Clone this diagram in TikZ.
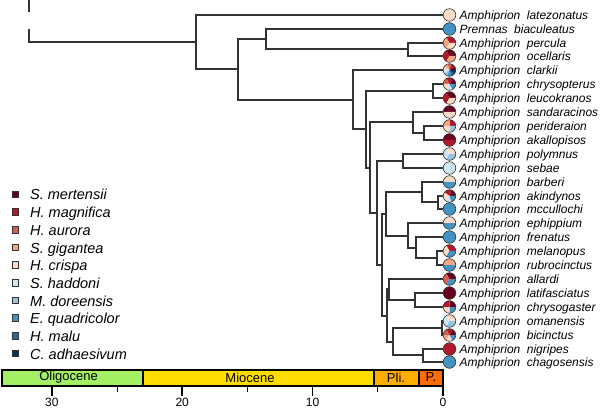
\documentclass[tikz,border=0pt]{standalone}
\usepackage{fontspec}
\setmainfont{Liberation Sans}
\usetikzlibrary{calc}

% host anemone colours (legend order)
\definecolor{host1}{HTML}{67001F}
\definecolor{host2}{HTML}{B2182B}
\definecolor{host3}{HTML}{D6604D}
\definecolor{host4}{HTML}{F4A582}
\definecolor{host5}{HTML}{FDDBC7}
\definecolor{host6}{HTML}{D1E5F0}
\definecolor{host7}{HTML}{92C5DE}
\definecolor{host8}{HTML}{4393C3}
\definecolor{host9}{HTML}{2166AC}
\definecolor{host10}{HTML}{053061}
% epoch colours
\definecolor{oligo}{HTML}{A4F064}
\definecolor{mio}{HTML}{FFDD00}
\definecolor{plio}{HTML}{FFAD00}
\definecolor{pleist}{HTML}{FF6C00}

\newcommand{\spgap}{\hspace{6.5pt}}

% pie of hosts: #1 = tip node, #2 = list of host numbers
\newcommand{\hostpie}[2]{%
  \xdef\npie{0}%
  \foreach \hid in {#2} {\xdef\npie{\the\numexpr\npie+1\relax}}%
  \foreach \hid [count=\pos] in {#2} {
    \fill[host\hid] (#1.center) -- ++({(\pos-1)*360/\npie}:6.3pt)
      arc[start angle={(\pos-1)*360/\npie}, delta angle={360/\npie}, radius=6.3pt] -- cycle;
  }
  \draw[black!80, line width=0.6pt] (#1.center) circle[radius=6.3pt];
}

\tikzset{
  branch/.style={black!80, line width=2pt},
  tipspot/.style={circle, minimum size=12.6pt, inner sep=0pt},
  tiplabel/.style={anchor=base west, inner sep=0pt, font=\fontsize{12}{14}\selectfont\itshape},
  hostbox/.style={draw=black!80, line width=0.5pt, minimum size=6.5pt, inner sep=0pt},
  hostlabel/.style={anchor=base west, inner sep=0pt, font=\fontsize{14.5}{17}\selectfont\itshape},
  epoch/.style={draw=black, line width=2pt},
  epochlabel/.style={inner sep=0pt, font=\fontsize{13}{15}\selectfont},
  agelabel/.style={inner sep=0pt, font=\fontsize{12}{14}\selectfont},
}

\begin{document}
\begin{tikzpicture}[x=1pt, y=-1pt, line join=miter]
    \useasboundingbox (0,0) rectangle (600,409);

    % Tips: pie spot and species name
    \foreach \n/\ty/\gen/\sp in {lat/15/Amphiprion/latezonatus, bia/29/Premnas/biaculeatus,
        per/43/Amphiprion/percula, oce/56/Amphiprion/ocellaris, cla/70/Amphiprion/clarkii,
        chr/84/Amphiprion/chrysopterus, leu/98/Amphiprion/leucokranos, san/112/Amphiprion/sandaracinos,
        pde/126/Amphiprion/perideraion, aka/140/Amphiprion/akallopisos, pol/154/Amphiprion/polymnus,
        seb/168/Amphiprion/sebae, bar/182/Amphiprion/barberi, aki/196/Amphiprion/akindynos,
        mcc/209/Amphiprion/mccullochi, eph/223/Amphiprion/ephippium, fre/237/Amphiprion/frenatus,
        mel/251/Amphiprion/melanopus, rub/265/Amphiprion/rubrocinctus, all/279/Amphiprion/allardi,
        laf/293/Amphiprion/latifasciatus, chs/307/Amphiprion/chrysogaster, oma/321/Amphiprion/omanensis,
        bic/335/Amphiprion/bicinctus, nig/349/Amphiprion/nigripes, cha/362/Amphiprion/chagosensis} {
        \node[tipspot] (\n) at (449.5,\ty) {};
        \node[tiplabel] (\n-txt) at (459.5,\ty+4.3) {\gen\spgap\sp};
    }

    % Internal nodes of the tree
    \coordinate (rstub) at (29,0);      % cut-off root edge
    \coordinate (rstubend) at (29,12);
    \coordinate (rtop) at (29,29);
    \coordinate (root) at (29,42);
    \coordinate (nA) at (196,42);
    \coordinate (nB) at (238,69);
    \coordinate (nC) at (266,39);
    \coordinate (nE) at (408,49);    % percula / ocellaris
    \coordinate (nD) at (353,100);
    \coordinate (nF) at (366,129);
    \coordinate (nG) at (433,91);    % chrysopterus / leucokranos
    \coordinate (nH) at (370,168);
    \coordinate (nI) at (413,122);
    \coordinate (nK) at (424,133);   % perideraion / akallopisos
    \coordinate (nJ) at (377,213);
    \coordinate (nL) at (403,161);   % polymnus / sebae
    \coordinate (nT) at (382,265);
    \coordinate (nP) at (386,214);
    \coordinate (nN) at (422,192);
    \coordinate (nO) at (438,202);   % akindynos / mccullochi
    \coordinate (nQ) at (408,236);
    \coordinate (nR) at (416,248);
    \coordinate (nS) at (437,258);   % melanopus / rubrocinctus
    \coordinate (nY) at (387,316);
    \coordinate (nV) at (389,289);
    \coordinate (nW) at (415,300);   % latifasciatus / chrysogaster
    \coordinate (nX) at (393,342);
    \coordinate (nZ) at (442,328);   % omanensis / bicinctus
    \coordinate (nU) at (423,355);   % nigripes / chagosensis

    % Branches
    \draw[branch] (rstub) -- (rstubend);
    \draw[branch] (rtop) -- (root) -- (nA);
    \foreach \p/\c in {nA/lat.west, nA/nB, nB/nC, nB/nD, nC/bia.west, nC/nE,
        nE/per.west, nE/oce.west, nD/cla.west, nD/nF, nF/nG, nF/nH,
        nG/chr.west, nG/leu.west, nH/nI, nH/nJ, nI/san.west, nI/nK,
        nK/pde.west, nK/aka.west, nJ/nL, nJ/nT, nL/pol.west, nL/seb.west,
        nT/nP, nT/nY, nP/nN, nP/nQ, nN/bar.west, nN/nO, nO/aki.west, nO/mcc.west,
        nQ/eph.west, nQ/nR, nR/fre.west, nR/nS, nS/mel.west, nS/rub.west,
        nY/nV, nY/nX, nV/all.west, nV/nW, nW/laf.west, nW/chs.west,
        nX/nZ, nX/nU, nZ/oma.west, nZ/bic.west, nU/nig.west, nU/cha.west} {
        \draw[branch] (\p) |- (\c);
    }

    % Host pies
    \hostpie{lat}{5}
    \hostpie{bia}{8}
    \hostpie{per}{2,4,5}
    \hostpie{oce}{1,2,4}
    \hostpie{cla}{1,2,3,4,5,6,7,8,9,10}
    \hostpie{chr}{1,2,3,5,6,8}
    \hostpie{leu}{1,2,5}
    \hostpie{san}{1,5}
    \hostpie{pde}{2,4,5,7}
    \hostpie{aka}{1,2}
    \hostpie{pol}{5,6,7}
    \hostpie{seb}{6}
    \hostpie{bar}{5,8}
    \hostpie{aki}{1,2,5,6,8}
    \hostpie{mcc}{8}
    \hostpie{eph}{5,8}
    \hostpie{fre}{8}
    \hostpie{mel}{2,5,8}
    \hostpie{rub}{4,8}
    \hostpie{all}{1,3,8}
    \hostpie{laf}{1}
    \hostpie{chs}{1,2,5,8}
    \hostpie{oma}{5,6,7}
    \hostpie{bic}{1,2,3,4,5,8}
    \hostpie{nig}{2}
    \hostpie{cha}{8}

    % Legend of hosts
    \foreach \hid/\sp [count=\r from 0] in {1/S. mertensii, 2/H. magnifica, 3/H. aurora,
        4/S. gigantea, 5/H. crispa, 6/S. haddoni, 7/M. doreensis, 8/E. quadricolor,
        9/H. malu, 10/C. adhaesivum} {
        \node[hostbox, fill=host\hid] (key\hid) at (15, 194.3+17.67*\r) {};
        \node[hostlabel] (key\hid-txt) at (30, 200.0+17.67*\r) {\sp};
    }

    % Time scale
    \draw[epoch, fill=oligo] (2,369.5) rectangle (142.5,386);
    \draw[epoch, fill=mio] (142.5,369.5) rectangle (374,386);
    \draw[epoch, fill=plio] (374,369.5) rectangle (419.3,386);
    \draw[epoch, fill=pleist] (419.3,369.5) rectangle (443,386);
    \node[epochlabel] (oligo-txt) at (68.6,377.5) {Oligocene};
    \node[epochlabel] (mio-txt) at (250,377.5) {Miocene};
    \node[epochlabel] (plio-txt) at (396,377.5) {Pli.};
    \node[epochlabel] (pleist-txt) at (431,377.5) {P.};

    % ticks
    \foreach \t in {0,10,20,30} {
        \draw[line width=1.6pt] (443-13.04*\t,386) -- (443-13.04*\t,396);
        \node[agelabel] (age\t) at (443-13.04*\t,402.5) {\t};
    }
    \foreach \t in {5,15,25} {
        \draw[line width=0.8pt] (443-13.04*\t,386) -- (443-13.04*\t,391.5);
    }

\end{tikzpicture}
\end{document}
